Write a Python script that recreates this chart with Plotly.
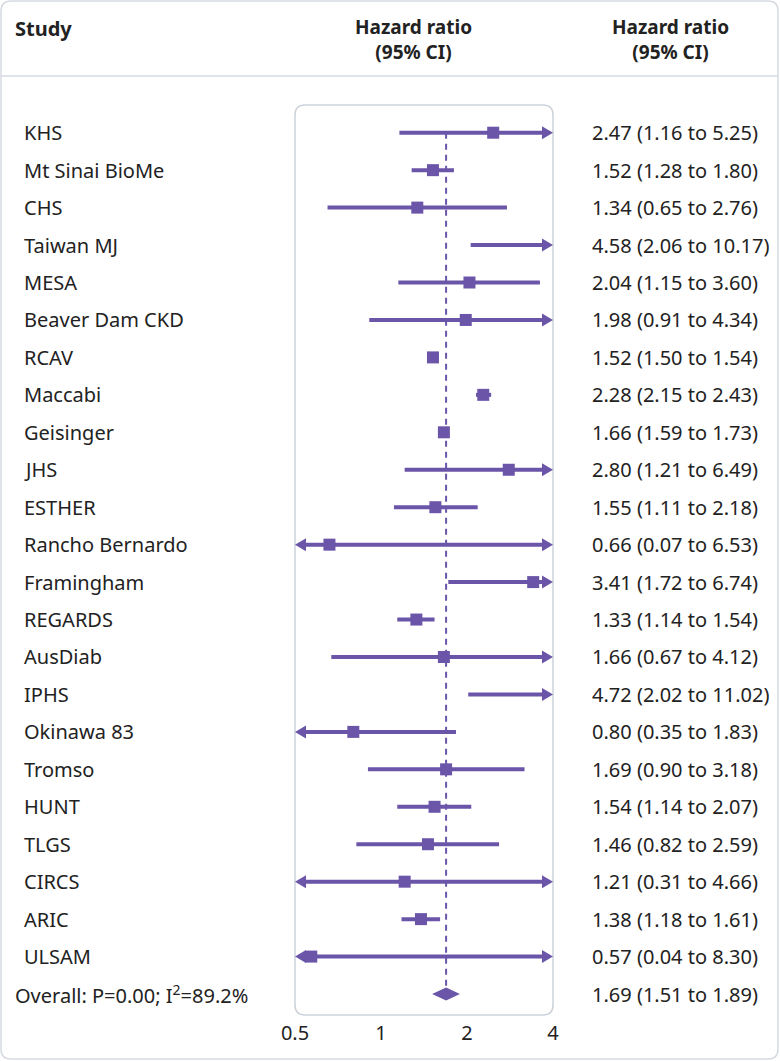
import math
import plotly.graph_objects as go

# ---------------- data ----------------
studies = ["KHS", "Mt Sinai BioMe", "CHS", "Taiwan MJ", "MESA", "Beaver Dam CKD", "RCAV",
           "Maccabi", "Geisinger", "JHS", "ESTHER", "Rancho Bernardo", "Framingham",
           "REGARDS", "AusDiab", "IPHS", "Okinawa 83", "Tromso", "HUNT", "TLGS", "CIRCS",
           "ARIC", "ULSAM"]
hr = [2.47, 1.52, 1.34, 4.58, 2.04, 1.98, 1.52, 2.28, 1.66, 2.80, 1.55, 0.66, 3.41,
      1.33, 1.66, 4.72, 0.80, 1.69, 1.54, 1.46, 1.21, 1.38, 0.57]
ci_low = [1.16, 1.28, 0.65, 2.06, 1.15, 0.91, 1.50, 2.15, 1.59, 1.21, 1.11, 0.07, 1.72,
          1.14, 0.67, 2.02, 0.35, 0.90, 1.14, 0.82, 0.31, 1.18, 0.04]
ci_high = [5.25, 1.80, 2.76, 10.17, 3.60, 4.34, 1.54, 2.43, 1.73, 6.49, 2.18, 6.53, 6.74,
           1.54, 4.12, 11.02, 1.83, 3.18, 2.07, 2.59, 4.66, 1.61, 8.30]
overall_label = "Overall: P=0.00; I<sup>2</sup>=89.2%"
overall_hr = 1.69
overall_low = 1.51
overall_high = 1.89
x_ticks = [0.5, 1, 2, 4]
x_tick_labels = ["0.5", "1", "2", "4"]
header_study = "Study"
header_hr = "Hazard ratio<br>(95% CI)"

# ---------------- layout constants ----------------
W, H = 780, 1061
L, R, T, B = 295, 227, 105, 46
PW, PH = W - L - R, H - T - B
XMIN, XMAX = 0.5, 4.0
ROW_TOP, ROW_BOTTOM = -0.74, 23.56
ROW_PX = PH / (ROW_BOTTOM - ROW_TOP)
PX_PER_DEC = PW / (math.log10(XMAX) - math.log10(XMIN))

PURPLE = "#6a55a8"
GRAY = "#cdd3db"
TEXT = "#222222"
FONT = "Noto Sans"
FS = 20

ARROW_LEN = 11
ARROW_HALF = 6.5
afac = 10 ** (ARROW_LEN / PX_PER_DEC)
ady = ARROW_HALF / ROW_PX

n = len(studies)
rows = list(range(n))
overall_row = n

fig = go.Figure()

# CI lines
lx, ly = [], []
for i in rows:
    x0 = max(ci_low[i], XMIN)
    x1 = min(ci_high[i], XMAX)
    if ci_low[i] < XMIN:
        x0 = XMIN * math.sqrt(afac)
    if ci_high[i] > XMAX:
        x1 = XMAX / math.sqrt(afac)
    lx += [x0, x1, None]
    ly += [i, i, None]
fig.add_trace(go.Scatter(x=lx, y=ly, mode="lines", line=dict(color=PURPLE, width=4),
                         hoverinfo="skip", showlegend=False))

# arrow heads
for i in rows:
    if ci_high[i] > XMAX:
        fig.add_trace(go.Scatter(x=[XMAX, XMAX / afac, XMAX / afac, XMAX],
                                 y=[i, i - ady, i + ady, i], mode="lines", fill="toself",
                                 fillcolor=PURPLE, line=dict(width=0, color=PURPLE),
                                 hoverinfo="skip", showlegend=False))
    if ci_low[i] < XMIN:
        fig.add_trace(go.Scatter(x=[XMIN, XMIN * afac, XMIN * afac, XMIN],
                                 y=[i, i - ady, i + ady, i], mode="lines", fill="toself",
                                 fillcolor=PURPLE, line=dict(width=0, color=PURPLE),
                                 hoverinfo="skip", showlegend=False))

# dashed overall line
fig.add_trace(go.Scatter(x=[overall_hr, overall_hr], y=[0, overall_row - ady],
                         mode="lines", line=dict(color=PURPLE, width=2, dash="6px,5px"),
                         hoverinfo="skip", showlegend=False))

# point estimates
px_, py_ = [], []
for i in rows:
    if XMIN <= hr[i] <= XMAX:
        px_.append(hr[i])
        py_.append(i)
fig.add_trace(go.Scatter(x=px_, y=py_, mode="markers",
                         marker=dict(symbol="square", size=12, color=PURPLE),
                         hoverinfo="skip", showlegend=False))

# overall diamond
fig.add_trace(go.Scatter(x=[overall_low, overall_hr, overall_high, overall_hr, overall_low],
                         y=[overall_row, overall_row - ady, overall_row, overall_row + ady, overall_row],
                         mode="lines", fill="toself", fillcolor=PURPLE,
                         line=dict(width=0, color=PURPLE), hoverinfo="skip", showlegend=False))


# ---------------- shapes ----------------
def px2paper_x(px):
    return (px - L) / PW


def py2paper_y(py):
    return (H - B - py) / PH


def rounded_rect(x0, y0, x1, y1, r):
    X = px2paper_x
    Y = py2paper_y
    return (f"M {X(x0 + r)},{Y(y0)} L {X(x1 - r)},{Y(y0)} Q {X(x1)},{Y(y0)} {X(x1)},{Y(y0 + r)} "
            f"L {X(x1)},{Y(y1 - r)} Q {X(x1)},{Y(y1)} {X(x1 - r)},{Y(y1)} "
            f"L {X(x0 + r)},{Y(y1)} Q {X(x0)},{Y(y1)} {X(x0)},{Y(y1 - r)} "
            f"L {X(x0)},{Y(y0 + r)} Q {X(x0)},{Y(y0)} {X(x0 + r)},{Y(y0)} Z")


shapes = []
# outer card border
shapes.append(dict(type="path", xref="paper", yref="paper",
                   path=rounded_rect(1, 1, W - 2, H - 2, 10),
                   line=dict(color="#d6dae0", width=1.5), layer="below"))
# header separator
shapes.append(dict(type="line", xref="paper", yref="paper",
                   x0=px2paper_x(1), x1=px2paper_x(W - 2), y0=py2paper_y(76), y1=py2paper_y(76),
                   line=dict(color="#d6dae0", width=1.5), layer="below"))
# plot box
shapes.append(dict(type="path", xref="paper", yref="paper",
                   path=rounded_rect(L, T, L + PW, T + PH, 10),
                   line=dict(color=GRAY, width=1.5), layer="below"))
# reference line at 1
shapes.append(dict(type="line", xref="x", yref="paper", x0=math.log10(1), x1=math.log10(1),
                   y0=0, y1=1, line=dict(color=GRAY, width=1.5), layer="below"))
# inner ticks
for v in x_ticks:
    if XMIN < v < XMAX and v != 1:
        shapes.append(dict(type="line", xref="x", yref="paper", x0=math.log10(v), x1=math.log10(v),
                           y0=0, y1=6 / PH, line=dict(color=GRAY, width=1.5), layer="below"))

# ---------------- annotations ----------------
ann = []
for i in rows:
    ann.append(dict(xref="paper", yref="y", x=px2paper_x(22), y=i, text=studies[i],
                    xanchor="left", yanchor="middle", showarrow=False,
                    font=dict(family=FONT, size=FS, color=TEXT)))
    ann.append(dict(xref="paper", yref="y", x=px2paper_x(590), y=i,
                    text=f"{hr[i]:.2f} ({ci_low[i]:.2f} to {ci_high[i]:.2f})",
                    xanchor="left", yanchor="middle", showarrow=False,
                    font=dict(family=FONT, size=FS, color=TEXT)))
ann.append(dict(xref="paper", yref="y", x=px2paper_x(13), y=overall_row, text=overall_label,
                xanchor="left", yanchor="middle", showarrow=False,
                font=dict(family=FONT, size=FS, color=TEXT)))
ann.append(dict(xref="paper", yref="y", x=px2paper_x(590), y=overall_row,
                text=f"{overall_hr:.2f} ({overall_low:.2f} to {overall_high:.2f})",
                xanchor="left", yanchor="middle", showarrow=False,
                font=dict(family=FONT, size=FS, color=TEXT)))
# headers
ann.append(dict(xref="paper", yref="paper", x=px2paper_x(13), y=py2paper_y(28),
                text=f"<b>{header_study}</b>", xanchor="left", yanchor="middle", showarrow=False,
                font=dict(family=FONT, size=FS, color=TEXT)))
for cx in (413, 670):
    ann.append(dict(xref="paper", yref="paper", x=px2paper_x(cx), y=py2paper_y(39),
                    text=f"<b>{header_hr}</b>", xanchor="center", yanchor="middle",
                    align="center", showarrow=False,
                    font=dict(family=FONT, size=19, color=TEXT)))

fig.update_layout(
    width=W, height=H,
    margin=dict(l=L, r=R, t=T, b=B, pad=0),
    paper_bgcolor="white", plot_bgcolor="white",
    shapes=shapes, annotations=ann,
    xaxis=dict(type="log", range=[math.log10(XMIN), math.log10(XMAX)],
               tickvals=x_ticks, ticktext=x_tick_labels, showgrid=False, zeroline=False,
               showline=False, ticks="", ticklabelstandoff=4,
               tickfont=dict(family=FONT, size=FS, color=TEXT)),
    yaxis=dict(range=[ROW_BOTTOM, ROW_TOP], showgrid=False, zeroline=False, showline=False,
               showticklabels=False, ticks=""),
    showlegend=False,
)

fig.write_html("out.html", config={"displayModeBar": False},
               post_script="document.body.style.margin='0';document.body.style.overflow='hidden';")
